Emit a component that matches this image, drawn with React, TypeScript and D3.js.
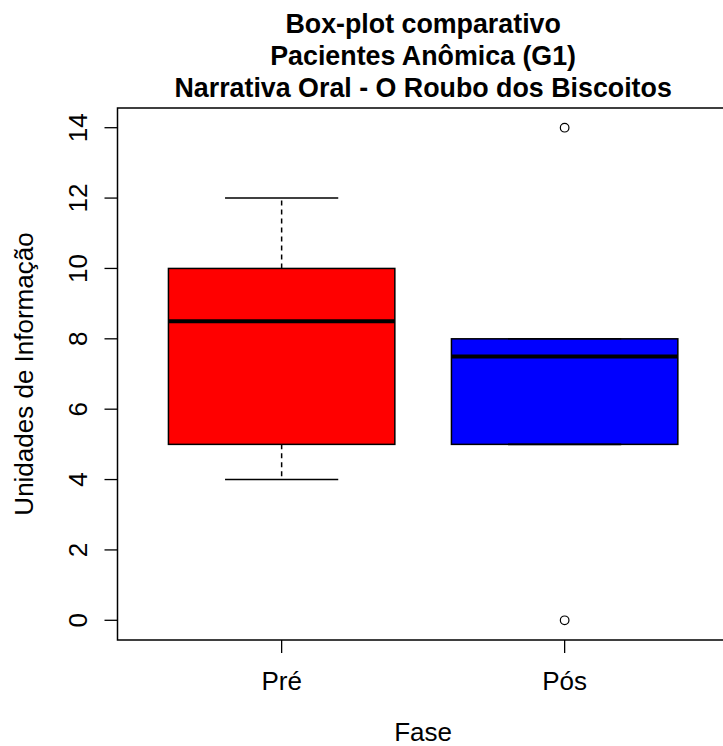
import React, { useEffect, useRef } from "react";
import * as d3 from "d3";

// Box statistics
const phases = ["Pré", "Pós"];
const boxColors = ["#ff0000", "#0000ff"];
const lowerWhisker = [4, 5];
const lowerQuartile = [5, 5];
const medians = [8.5, 7.5];
const upperQuartile = [10, 8];
const upperWhisker = [12, 8];
const outliers = [[], [14, 0]];

const yTicks = [0, 2, 4, 6, 8, 10, 12, 14];
const titleLines = [
  "Box-plot comparativo",
  "Pacientes Anômica (G1)",
  "Narrativa Oral - O Roubo dos Biscoitos",
];

export default function App() {
  const svgRef = useRef(null);
  const width = 723;
  const height = 746;

  useEffect(() => {
    const svg = d3.select(svgRef.current);
    svg.selectAll("*").remove();

    const font = "'Liberation Sans', Arial, Helvetica, sans-serif";
    const margin = { top: 108, left: 117.5, bottom: 106 };
    const plotRight = margin.left + 2.16 * 283;
    const plotBottom = height - margin.bottom;

    // R-style ranges: 0.5..n+0.5 and 0..14, each widened by 4%
    const x = d3.scaleLinear().domain([0.42, 2.58]).range([margin.left, plotRight]);
    const y = d3.scaleLinear().domain([-0.56, 14.56]).range([plotBottom, margin.top]);
    const boxHalf = x(1.4) - x(1);
    const capHalf = boxHalf / 2;

    const g = svg.append("g");

    phases.forEach((p, i) => {
      const cx = x(i + 1);

      // whiskers
      if (upperWhisker[i] > upperQuartile[i]) {
        g.append("line")
          .attr("x1", cx).attr("x2", cx)
          .attr("y1", y(upperQuartile[i])).attr("y2", y(upperWhisker[i]))
          .attr("stroke", "#000").attr("stroke-width", 1.5)
          .attr("stroke-dasharray", "5,4");
      }
      if (lowerWhisker[i] < lowerQuartile[i]) {
        g.append("line")
          .attr("x1", cx).attr("x2", cx)
          .attr("y1", y(lowerQuartile[i])).attr("y2", y(lowerWhisker[i]))
          .attr("stroke", "#000").attr("stroke-width", 1.5)
          .attr("stroke-dasharray", "5,4");
      }

      // box
      g.append("rect")
        .attr("x", cx - boxHalf)
        .attr("y", y(upperQuartile[i]))
        .attr("width", boxHalf * 2)
        .attr("height", y(lowerQuartile[i]) - y(upperQuartile[i]))
        .attr("fill", boxColors[i])
        .attr("stroke", "#000")
        .attr("stroke-width", 1.5);

      // whisker caps (drawn over the box edge when they coincide)
      [upperWhisker[i], lowerWhisker[i]].forEach((v) => {
        g.append("line")
          .attr("x1", cx - capHalf).attr("x2", cx + capHalf)
          .attr("y1", y(v)).attr("y2", y(v))
          .attr("stroke", "#000").attr("stroke-width", 1.6);
      });

      // median
      g.append("line")
        .attr("x1", cx - boxHalf).attr("x2", cx + boxHalf)
        .attr("y1", y(medians[i])).attr("y2", y(medians[i]))
        .attr("stroke", "#000").attr("stroke-width", 4);

      // outliers
      outliers[i].forEach((v) => {
        g.append("circle")
          .attr("cx", cx).attr("cy", y(v)).attr("r", 4.3)
          .attr("fill", "none").attr("stroke", "#000").attr("stroke-width", 1.2);
      });
    });

    // plot frame
    svg.append("rect")
      .attr("x", margin.left).attr("y", margin.top)
      .attr("width", plotRight - margin.left)
      .attr("height", plotBottom - margin.top)
      .attr("fill", "none").attr("stroke", "#000").attr("stroke-width", 1.5);

    // y axis
    const yAxis = svg.append("g");
    yTicks.forEach((t) => {
      yAxis.append("line")
        .attr("x1", margin.left - 13).attr("x2", margin.left)
        .attr("y1", y(t)).attr("y2", y(t))
        .attr("stroke", "#000").attr("stroke-width", 1.3);
      yAxis.append("text")
        .attr("transform", `translate(87,${y(t)}) rotate(-90)`)
        .attr("text-anchor", "middle")
        .style("font-family", font)
        .style("font-size", "26px")
        .text(t);
    });

    // x axis
    const xAxis = svg.append("g");
    phases.forEach((p, i) => {
      xAxis.append("line")
        .attr("x1", x(i + 1)).attr("x2", x(i + 1))
        .attr("y1", plotBottom).attr("y2", plotBottom + 13)
        .attr("stroke", "#000").attr("stroke-width", 1.3);
      xAxis.append("text")
        .attr("x", x(i + 1)).attr("y", 690)
        .attr("text-anchor", "middle")
        .style("font-family", font)
        .style("font-size", "26px")
        .text(p);
    });

    const cxPlot = (margin.left + plotRight) / 2;

    // axis labels
    svg.append("text")
      .attr("x", cxPlot).attr("y", 741)
      .attr("text-anchor", "middle")
      .style("font-family", font)
      .style("font-size", "26px")
      .text("Fase");

    svg.append("text")
      .attr("transform", `translate(33,${(margin.top + plotBottom) / 2}) rotate(-90)`)
      .attr("text-anchor", "middle")
      .style("font-family", font)
      .style("font-size", "26px")
      .text("Unidades de Informação");

    // title
    titleLines.forEach((line, i) => {
      svg.append("text")
        .attr("x", cxPlot).attr("y", 33 + i * 32)
        .attr("text-anchor", "middle")
        .style("font-family", font)
        .style("font-size", "26.8px")
        .style("font-weight", "bold")
        .text(line);
    });
  }, []);

  return (
    <svg
      ref={svgRef}
      width={width}
      height={height}
      style={{ position: "absolute", left: 0, top: 0, background: "#fff" }}
    ></svg>
  );
}
